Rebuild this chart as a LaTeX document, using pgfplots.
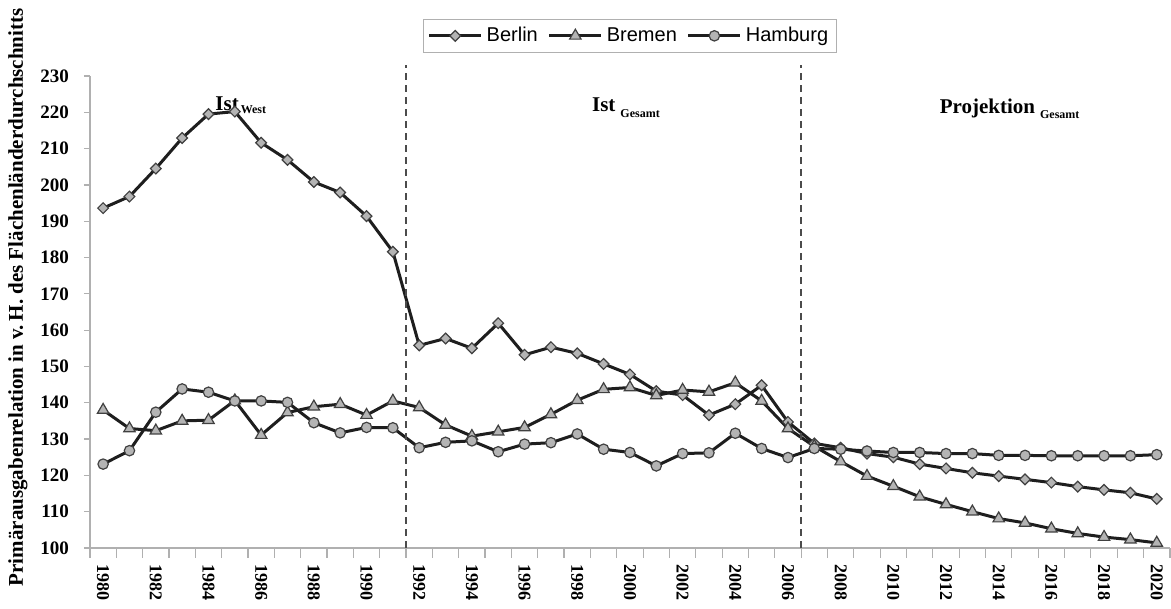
\documentclass[border=0pt]{standalone}
\usepackage{fontspec}
\setmainfont{Liberation Serif}
\newfontfamily\arial{Liberation Sans}
\usepackage{pgfplots}
\usepackage{pgfplotstable}
\pgfplotsset{compat=1.18}
\definecolor{mk}{HTML}{B4B4B4}
\definecolor{ln}{HTML}{1E1E1E}
\definecolor{ax}{HTML}{B0B0B0}

\pgfplotstableread{
year berlin bremen hamburg
1980 193.6 138.0 123.1
1981 196.8 132.9 126.8
1982 204.5 132.3 137.4
1983 212.9 135.0 143.8
1984 219.5 135.2 142.9
1985 220.2 140.6 140.5
1986 211.6 131.1 140.5
1987 206.9 137.3 140.1
1988 200.8 138.9 134.5
1989 197.9 139.6 131.7
1990 191.4 136.6 133.2
1991 181.6 140.5 133.1
1992 155.8 138.7 127.6
1993 157.7 133.9 129.1
1994 155.0 130.8 129.5
1995 161.9 132.0 126.5
1996 153.2 133.2 128.6
1997 155.3 136.8 129.0
1998 153.6 140.7 131.4
1999 150.7 143.7 127.2
2000 147.8 144.2 126.3
2001 143.2 142.0 122.6
2002 142.1 143.5 126.0
2003 136.6 143.0 126.2
2004 139.6 145.5 131.6
2005 144.8 140.5 127.4
2006 134.7 132.9 124.9
2007 128.8 128.0 127.4
2008 127.6 123.8 127.2
2009 126.0 119.8 126.7
2010 125.0 117.0 126.3
2011 123.1 114.1 126.3
2012 121.9 112.0 126.0
2013 120.7 110.0 126.0
2014 119.8 108.1 125.5
2015 118.9 106.9 125.5
2016 118.0 105.3 125.4
2017 116.9 104.0 125.4
2018 116.0 103.0 125.4
2019 115.2 102.3 125.4
2020 113.5 101.4 125.7
}\data

\begin{document}
\begin{tikzpicture}
\begin{axis}[
    width=540pt, height=236pt, scale only axis,
    xmin=1979.5, xmax=2020.5, ymin=100, ymax=230,
    axis lines*=left,
    axis line style={ax, line width=0.6pt},
    every tick/.style={ax, line width=0.6pt},
    tick align=outside,
    xtick={1980,1982,...,2020},
    major x tick style={draw=none},
    minor xtick={1979.5,1980.5,...,2020.5},
    minor tick length=5pt,
    ytick={100,110,...,230},
    major tick length=3pt,
    /pgf/number format/1000 sep={},
    /pgf/number format/assume math mode=true,
    ticklabel style={font=\bfseries\fontsize{9.5}{10}\selectfont, text=black},
    xticklabel style={rotate=-90, anchor=west, xshift=1.5pt, font=\bfseries\fontsize{9}{10}\selectfont},
    yticklabel style={xshift=-4pt},
    ylabel={Primärausgabenrelation in v.\,H. des Flächenländerdurchschnitts},
    ylabel style={font=\bfseries\fontsize{10.5}{12}\selectfont,
        at={(axis description cs:-0.0667,0.531)}, anchor=center},
    clip=false,
    legend columns=3,
    legend style={at={(axis description cs:0.5,1)}, anchor=south, yshift=11.5pt,
        draw=ax, font=\arial\fontsize{10}{12}\selectfont, inner sep=2pt,
        /tikz/every even column/.append style={column sep=3pt}},
    legend image code/.code={\draw[mark repeat=2, mark phase=2] plot coordinates {(0pt,0pt) (13pt,0pt) (26pt,0pt)};},
]
\addplot[ln, line width=1.5pt, mark=square*, mark size=1.9pt,
    mark options={rotate=45, fill=mk, draw=ln!85, line width=0.6pt}] table[x=year, y=berlin] {\data};
\addplot[ln, line width=1.5pt, mark=triangle*, mark size=3.3pt,
    mark options={fill=mk, draw=ln!85, line width=0.6pt}] table[x=year, y=bremen] {\data};
\addplot[ln, line width=1.5pt, mark=*, mark size=2.6pt,
    mark options={fill=mk, draw=ln!85, line width=0.6pt}] table[x=year, y=hamburg] {\data};
\legend{Berlin, Bremen, Hamburg}

\draw[ln!80, line width=0.8pt, dash pattern=on 3.5pt off 2.5pt] (axis cs:1991.5,100) -- (axis cs:1991.5,233);
\draw[ln!80, line width=0.8pt, dash pattern=on 3.5pt off 2.5pt] (axis cs:2006.5,100) -- (axis cs:2006.5,233);

\node[anchor=base west, inner sep=0pt, font=\bfseries\fontsize{10.5}{12}\selectfont] at (axis cs:1984.25,220.6) {Ist\raisebox{-1.6pt}{\fontsize{6}{7}\selectfont\,West}};
\node[anchor=base west, inner sep=0pt, font=\bfseries\fontsize{10.5}{12}\selectfont] at (axis cs:1998.55,220.1) {Ist\raisebox{-2.6pt}{\fontsize{6}{7}\selectfont\ \,Gesamt}};
\node[anchor=base west, inner sep=0pt, font=\bfseries\fontsize{10.5}{12}\selectfont] at (axis cs:2011.75,219.8) {Projektion\raisebox{-2.8pt}{\fontsize{6}{7}\selectfont\ \,Gesamt}};

\coordinate (bl) at (axis description cs:-0.0833,-0.129);
\coordinate (tr) at (axis description cs:1.001,1.161);
\end{axis}
\pgfresetboundingbox
\path (bl) rectangle (tr);
\end{tikzpicture}
\end{document}
